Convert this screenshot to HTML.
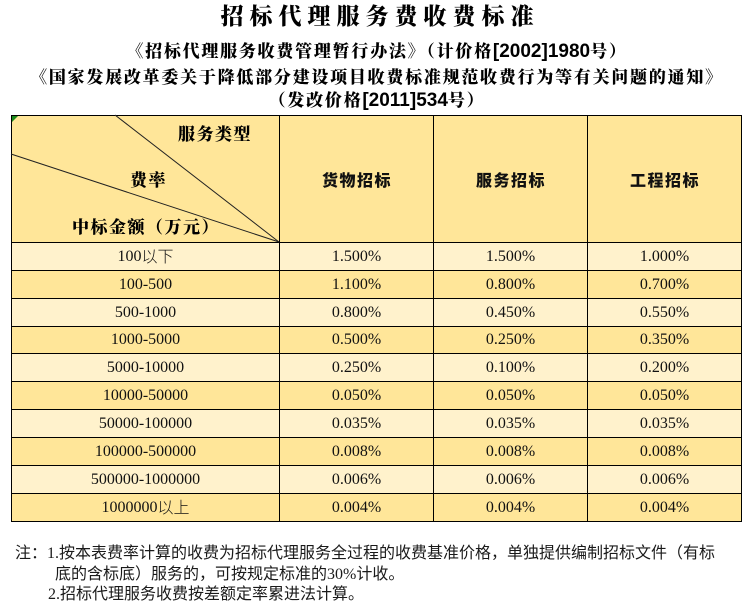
<!DOCTYPE html>
<html><head><meta charset="utf-8">
<style>
html,body{margin:0;padding:0;background:#fff;}
body{width:754px;height:605px;position:relative;overflow:hidden;}
.abs{position:absolute;white-space:nowrap;}
.title{left:0;width:754px;top:5px;text-align:center;font-family:"Liberation Serif","Noto Serif CJK SC",serif;font-weight:900;font-size:23px;line-height:24px;letter-spacing:6px;color:#000;text-indent:6px;}
.sub{left:0;width:754px;text-align:center;font-family:"Liberation Serif","Noto Serif CJK SC",serif;font-weight:900;font-size:17px;line-height:20px;letter-spacing:1.75px;color:#000;}
.lat{font-family:"Liberation Sans Narrow","Liberation Sans",sans-serif;font-stretch:condensed;font-weight:700;font-size:19px;letter-spacing:0;}
.hd{font-family:"Liberation Serif","Noto Serif CJK SC",serif;font-weight:900;font-size:17px;line-height:20px;letter-spacing:1.5px;color:#000;}
.cell{position:absolute;display:flex;align-items:center;justify-content:center;font-family:"Liberation Serif","Noto Sans CJK SC",serif;font-size:16px;color:#111;}
.cj{font-family:"Noto Sans CJK SC",sans-serif;font-weight:300;position:relative;top:-2px;}
.note{position:absolute;font-family:"Noto Sans CJK SC",sans-serif;font-size:16px;line-height:20px;color:#1a1a1a;white-space:nowrap;letter-spacing:0;}
.ser{font-family:"Liberation Serif",serif;letter-spacing:0;}
</style></head><body>

<div class="abs title">招标代理服务费收费标准</div>
<div class="abs sub" style="top:42px;">《招标代理服务收费管理暂行办法》（计价格<span class="lat">[2002]1980</span>号）</div>
<div class="abs sub" style="top:68px;">《国家发展改革委关于降低部分建设项目收费标准规范收费行为等有关问题的通知》</div>
<div class="abs sub" style="top:91px;">（发改价格<span class="lat">[2011]534</span>号）</div>

<svg class="abs" style="left:0;top:0;" width="754" height="605" xmlns="http://www.w3.org/2000/svg">
  <rect x="11" y="115" width="730" height="127" fill="#FFE699"/>
  <rect x="11" y="242" width="730" height="28" fill="#FFF2CC"/>
  <rect x="11" y="270" width="730" height="28" fill="#FFE699"/>
  <rect x="11" y="298" width="730" height="28" fill="#FFF2CC"/>
  <rect x="11" y="326" width="730" height="27" fill="#FFE699"/>
  <rect x="11" y="353" width="730" height="28" fill="#FFF2CC"/>
  <rect x="11" y="381" width="730" height="28" fill="#FFE699"/>
  <rect x="11" y="409" width="730" height="28" fill="#FFF2CC"/>
  <rect x="11" y="437" width="730" height="28" fill="#FFE699"/>
  <rect x="11" y="465" width="730" height="28" fill="#FFF2CC"/>
  <rect x="11" y="493" width="730" height="28" fill="#FFE699"/>
  <g stroke="#000" stroke-width="1">
    <line x1="11" y1="115.5" x2="742" y2="115.5"/>
    <line x1="11" y1="242.5" x2="742" y2="242.5"/>
    <line x1="11" y1="270.5" x2="742" y2="270.5"/>
    <line x1="11" y1="298.5" x2="742" y2="298.5"/>
    <line x1="11" y1="326.5" x2="742" y2="326.5"/>
    <line x1="11" y1="353.5" x2="742" y2="353.5"/>
    <line x1="11" y1="381.5" x2="742" y2="381.5"/>
    <line x1="11" y1="409.5" x2="742" y2="409.5"/>
    <line x1="11" y1="437.5" x2="742" y2="437.5"/>
    <line x1="11" y1="465.5" x2="742" y2="465.5"/>
    <line x1="11" y1="493.5" x2="742" y2="493.5"/>
    <line x1="11" y1="521.5" x2="742" y2="521.5"/>
    <line x1="11.5" y1="115" x2="11.5" y2="522"/>
    <line x1="279.5" y1="115" x2="279.5" y2="522"/>
    <line x1="433.5" y1="115" x2="433.5" y2="522"/>
    <line x1="587.5" y1="115" x2="587.5" y2="522"/>
    <line x1="741.5" y1="115" x2="741.5" y2="522"/>
  </g>
  <g stroke="#222" stroke-width="1">
    <line x1="115" y1="115" x2="279" y2="242"/>
    <line x1="11" y1="154" x2="279" y2="242"/>
  </g>
  <polygon points="12,116 18,116 12,122" fill="#1a8a1a"/>
</svg>

<div class="abs hd" style="left:178px;top:125px;">服务类型</div>
<div class="abs hd" style="left:130px;top:171px;">费率</div>
<div class="abs hd" style="left:72px;top:218px;">中标金额（万元）</div>
<div class="cell hd" style="left:280px;top:119px;width:154px;height:126px;">货物招标</div>
<div class="cell hd" style="left:434px;top:119px;width:154px;height:126px;">服务招标</div>
<div class="cell hd" style="left:588px;top:119px;width:154px;height:126px;">工程招标</div>

<div class="cell" style="left:12px;top:243px;width:267px;height:27px;">100<span class="cj">以下</span></div>
<div class="cell" style="left:280px;top:243px;width:153px;height:27px;">1.500%</div>
<div class="cell" style="left:434px;top:243px;width:153px;height:27px;">1.500%</div>
<div class="cell" style="left:588px;top:243px;width:153px;height:27px;">1.000%</div>

<div class="cell" style="left:12px;top:271px;width:267px;height:27px;">100-500</div>
<div class="cell" style="left:280px;top:271px;width:153px;height:27px;">1.100%</div>
<div class="cell" style="left:434px;top:271px;width:153px;height:27px;">0.800%</div>
<div class="cell" style="left:588px;top:271px;width:153px;height:27px;">0.700%</div>

<div class="cell" style="left:12px;top:299px;width:267px;height:27px;">500-1000</div>
<div class="cell" style="left:280px;top:299px;width:153px;height:27px;">0.800%</div>
<div class="cell" style="left:434px;top:299px;width:153px;height:27px;">0.450%</div>
<div class="cell" style="left:588px;top:299px;width:153px;height:27px;">0.550%</div>

<div class="cell" style="left:12px;top:327px;width:267px;height:26px;">1000-5000</div>
<div class="cell" style="left:280px;top:327px;width:153px;height:26px;">0.500%</div>
<div class="cell" style="left:434px;top:327px;width:153px;height:26px;">0.250%</div>
<div class="cell" style="left:588px;top:327px;width:153px;height:26px;">0.350%</div>

<div class="cell" style="left:12px;top:354px;width:267px;height:27px;">5000-10000</div>
<div class="cell" style="left:280px;top:354px;width:153px;height:27px;">0.250%</div>
<div class="cell" style="left:434px;top:354px;width:153px;height:27px;">0.100%</div>
<div class="cell" style="left:588px;top:354px;width:153px;height:27px;">0.200%</div>

<div class="cell" style="left:12px;top:382px;width:267px;height:27px;">10000-50000</div>
<div class="cell" style="left:280px;top:382px;width:153px;height:27px;">0.050%</div>
<div class="cell" style="left:434px;top:382px;width:153px;height:27px;">0.050%</div>
<div class="cell" style="left:588px;top:382px;width:153px;height:27px;">0.050%</div>

<div class="cell" style="left:12px;top:410px;width:267px;height:27px;">50000-100000</div>
<div class="cell" style="left:280px;top:410px;width:153px;height:27px;">0.035%</div>
<div class="cell" style="left:434px;top:410px;width:153px;height:27px;">0.035%</div>
<div class="cell" style="left:588px;top:410px;width:153px;height:27px;">0.035%</div>

<div class="cell" style="left:12px;top:438px;width:267px;height:27px;">100000-500000</div>
<div class="cell" style="left:280px;top:438px;width:153px;height:27px;">0.008%</div>
<div class="cell" style="left:434px;top:438px;width:153px;height:27px;">0.008%</div>
<div class="cell" style="left:588px;top:438px;width:153px;height:27px;">0.008%</div>

<div class="cell" style="left:12px;top:466px;width:267px;height:27px;">500000-1000000</div>
<div class="cell" style="left:280px;top:466px;width:153px;height:27px;">0.006%</div>
<div class="cell" style="left:434px;top:466px;width:153px;height:27px;">0.006%</div>
<div class="cell" style="left:588px;top:466px;width:153px;height:27px;">0.006%</div>

<div class="cell" style="left:12px;top:494px;width:267px;height:27px;">1000000<span class="cj">以上</span></div>
<div class="cell" style="left:280px;top:494px;width:153px;height:27px;">0.004%</div>
<div class="cell" style="left:434px;top:494px;width:153px;height:27px;">0.004%</div>
<div class="cell" style="left:588px;top:494px;width:153px;height:27px;">0.004%</div>

<div class="note" style="left:15px;top:541px;">注：<span class="ser">1.</span>按本表费率计算的收费为招标代理服务全过程的收费基准价格，单独提供编制招标文件（有标</div>
<div class="note" style="left:55px;top:562px;">底的含标底）服务的，可按规定标准的<span class="ser">30%</span>计收。</div>
<div class="note" style="left:48px;top:582px;"><span class="ser">2.</span>招标代理服务收费按差额定率累进法计算。</div>

</body></html>
